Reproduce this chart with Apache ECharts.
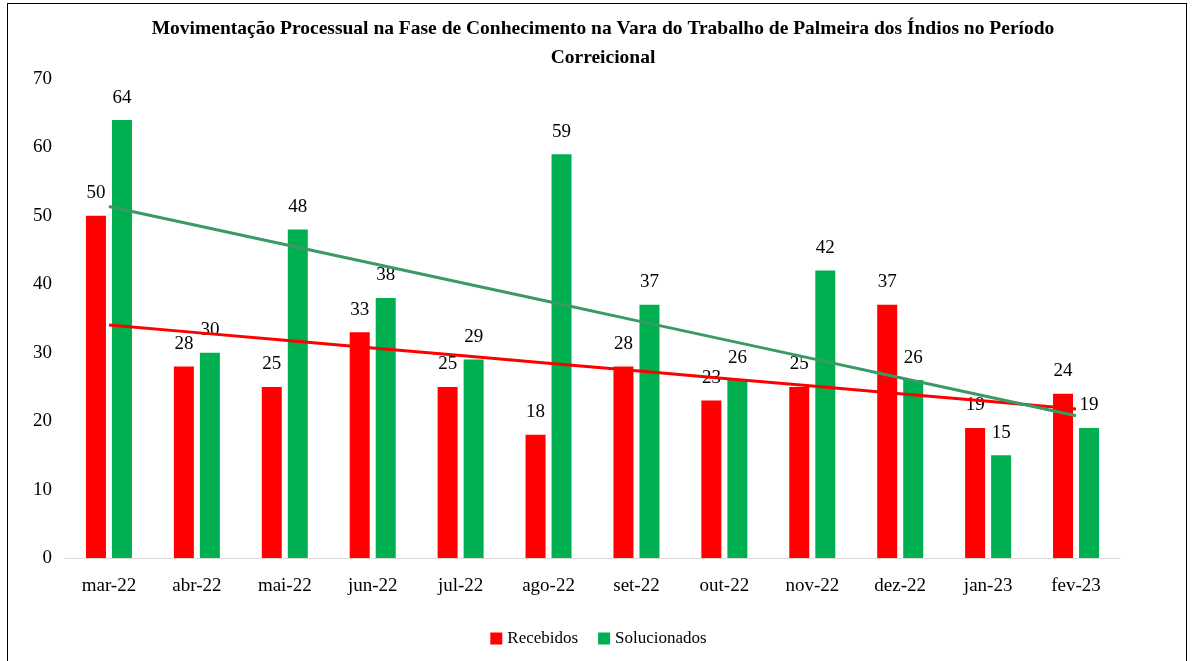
<!DOCTYPE html>
<html>
<head>
<meta charset="utf-8">
<script src="https://cdn.jsdelivr.net/npm/echarts@6/dist/echarts.min.js"></script>
<style>
  html, body { margin: 0; padding: 0; background: #fff; }
  #frame { position: absolute; left: 7px; top: 3px; width: 1180px; height: 670px;
           border: 1px solid #000; border-bottom: none; box-sizing: border-box; }
  #chart { position: absolute; left: 0; top: 0; width: 1197px; height: 661px; }
</style>
</head>
<body>
<div id="frame"></div>
<div id="chart"></div>
<script>
  var months = ['mar-22', 'abr-22', 'mai-22', 'jun-22', 'jul-22', 'ago-22',
                'set-22', 'out-22', 'nov-22', 'dez-22', 'jan-23', 'fev-23']
  var recebidos = [50, 28, 25, 33, 25, 18, 28, 23, 25, 37, 19, 24]
  var solucionados = [64, 30, 48, 38, 29, 59, 37, 26, 42, 26, 15, 19]

  // linear trend (least squares), like the spreadsheet trendline
  function trend(values) {
    var n = values.length
    var mx = (n - 1) / 2
    var my = values.reduce(function (a, b) { return a + b }, 0) / n
    var sxy = 0, sxx = 0
    values.forEach(function (v, i) { sxy += (i - mx) * (v - my); sxx += (i - mx) * (i - mx) })
    var slope = sxy / sxx
    return values.map(function (v, i) { return +(my + slope * (i - mx)).toFixed(3) })
  }

  var font = '"Liberation Serif", "Times New Roman", serif'
  var chart = echarts.init(document.getElementById('chart'))
  var option = {
    animation: false,
    textStyle: { fontFamily: font },
    title: {
      text: 'Movimentação Processual na Fase de Conhecimento na Vara do Trabalho de Palmeira dos Índios no Período\nCorreicional',
      left: 598,
      textAlign: 'center',
      top: 9,
      textStyle: { fontFamily: font, fontWeight: 'bold', fontSize: 19.5, color: '#000', lineHeight: 29 }
    },
    legend: {
      bottom: 9,
      left: 'center',
      itemWidth: 12,
      itemHeight: 12,
      itemGap: 20,
      icon: 'rect',
      data: ['Recebidos', 'Solucionados'],
      textStyle: { fontFamily: font, fontSize: 17, color: '#000' }
    },
    grid: { left: 65, right: 77, top: 79, bottom: 103 },
    xAxis: {
      type: 'category',
      data: months,
      axisLine: { lineStyle: { color: '#d9d9d9', width: 1 } },
      axisTick: { show: false },
      axisLabel: { fontFamily: font, fontSize: 19, color: '#000', margin: 19 }
    },
    yAxis: {
      type: 'value',
      min: 0,
      max: 70,
      interval: 10,
      splitLine: { show: false },
      axisLine: { show: false },
      axisLabel: { fontFamily: font, fontSize: 19, color: '#000', margin: 13 }
    },
    series: [
      {
        name: 'Recebidos',
        type: 'bar',
        data: recebidos,
        barWidth: 20,
        barGap: '30%',
        itemStyle: { color: '#ff0000' },
        label: { show: true, position: 'top', distance: 13, fontFamily: font, fontSize: 19, color: '#000' }
      },
      {
        name: 'Solucionados',
        type: 'bar',
        data: solucionados,
        barWidth: 20,
        itemStyle: { color: '#00b050' },
        label: { show: true, position: 'top', distance: 13, fontFamily: font, fontSize: 19, color: '#000' }
      },
      {
        name: 'Tendência Recebidos',
        type: 'line',
        data: trend(recebidos),
        symbol: 'none',
        lineStyle: { color: '#ff0000', width: 3 },
        z: 5
      },
      {
        name: 'Tendência Solucionados',
        type: 'line',
        data: trend(solucionados),
        symbol: 'none',
        lineStyle: { color: '#3a9a66', width: 3 },
        z: 5
      }
    ]
  }
  chart.setOption(option)
</script>
</body>
</html>
